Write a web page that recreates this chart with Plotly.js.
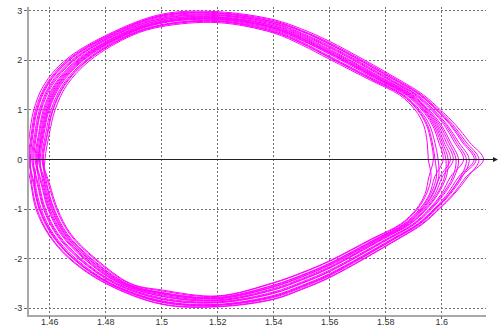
<!DOCTYPE html>
<html>
<head>
<meta charset="utf-8">
<script src="https://cdn.plot.ly/plotly-3.0.1.min.js"></script>
<style>
  html, body { margin: 0; padding: 0; background: #fff; }
  #chart { width: 499px; height: 328px; }
</style>
</head>
<body>
<div id="chart"></div>
<script>
// Phase trajectory (x = position, y = velocity): 18 successive loops.
const loopsX = [
  [1.4583,1.4598,1.4619,1.4661,1.4744,1.4893,1.50,1.52,1.54,1.55,1.56,1.5745,1.5850,1.5905,1.5935,1.5948,1.5952,1.5962,1.5945,1.5913,1.5858,1.5754,1.56,1.55,1.54,1.52,1.50,1.4884,1.4759,1.4671,1.4624,1.4596],
  [1.4572,1.4585,1.4605,1.4646,1.4728,1.4876,1.50,1.52,1.54,1.55,1.56,1.5764,1.5865,1.5921,1.5956,1.5975,1.5987,1.5989,1.5966,1.5929,1.5873,1.5773,1.56,1.55,1.54,1.52,1.50,1.4867,1.4740,1.4655,1.4609,1.4583],
  [1.4560,1.4573,1.4592,1.4631,1.4712,1.4860,1.50,1.52,1.54,1.55,1.56,1.5783,1.5881,1.5937,1.5976,1.6002,1.6023,1.6016,1.5986,1.5946,1.5888,1.5792,1.56,1.55,1.54,1.52,1.50,1.4849,1.4722,1.4639,1.4594,1.4570],
  [1.4548,1.4560,1.4577,1.4616,1.4695,1.4842,1.50,1.52,1.54,1.55,1.56,1.5803,1.5897,1.5955,1.5998,1.6031,1.6060,1.6045,1.6008,1.5963,1.5904,1.5812,1.56,1.55,1.54,1.52,1.50,1.4831,1.4703,1.4622,1.4578,1.4556],
  [1.4536,1.4546,1.4563,1.4600,1.4678,1.4824,1.50,1.52,1.54,1.55,1.56,1.5823,1.5913,1.5972,1.6019,1.6060,1.6098,1.6073,1.6030,1.5980,1.5921,1.5832,1.56,1.55,1.54,1.52,1.50,1.4812,1.4683,1.4605,1.4562,1.4542],
  [1.4525,1.4534,1.4549,1.4586,1.4662,1.4807,1.50,1.52,1.54,1.55,1.56,1.5842,1.5928,1.5988,1.6040,1.6087,1.6133,1.6093,1.6044,1.5991,1.5932,1.5846,1.56,1.55,1.54,1.52,1.50,1.4800,1.4670,1.4594,1.4551,1.4533],
  [1.4520,1.4528,1.4543,1.4579,1.4655,1.4800,1.50,1.52,1.54,1.55,1.56,1.5850,1.5935,1.5995,1.6049,1.6099,1.6149,1.6087,1.6040,1.5988,1.5928,1.5842,1.56,1.55,1.54,1.52,1.50,1.4804,1.4674,1.4597,1.4555,1.4536],
  [1.4531,1.4540,1.4556,1.4593,1.4670,1.4816,1.50,1.52,1.54,1.55,1.56,1.5832,1.5921,1.5980,1.6030,1.6073,1.6116,1.6060,1.6019,1.5972,1.5913,1.5823,1.56,1.55,1.54,1.52,1.50,1.4821,1.4693,1.4613,1.4570,1.4549],
  [1.4543,1.4553,1.4570,1.4609,1.4687,1.4833,1.50,1.52,1.54,1.55,1.56,1.5812,1.5904,1.5963,1.6008,1.6045,1.6078,1.6031,1.5998,1.5955,1.5897,1.5803,1.56,1.55,1.54,1.52,1.50,1.4840,1.4712,1.4630,1.4585,1.4563],
  [1.4555,1.4567,1.4585,1.4624,1.4704,1.4851,1.50,1.52,1.54,1.55,1.56,1.5792,1.5888,1.5946,1.5986,1.6016,1.6041,1.6002,1.5976,1.5937,1.5881,1.5783,1.56,1.55,1.54,1.52,1.50,1.4858,1.4731,1.4647,1.4601,1.4577],
  [1.4566,1.4579,1.4598,1.4639,1.4720,1.4868,1.50,1.52,1.54,1.55,1.56,1.5773,1.5873,1.5929,1.5966,1.5989,1.6005,1.5975,1.5956,1.5921,1.5865,1.5764,1.56,1.55,1.54,1.52,1.50,1.4876,1.4750,1.4663,1.4616,1.4590],
  [1.4577,1.4592,1.4612,1.4654,1.4736,1.4885,1.50,1.52,1.54,1.55,1.56,1.5754,1.5858,1.5913,1.5945,1.5962,1.5970,1.5954,1.5940,1.5909,1.5853,1.5749,1.56,1.55,1.54,1.52,1.50,1.4889,1.4764,1.4675,1.4628,1.4600],
  [1.4575,1.4590,1.4610,1.4651,1.4733,1.4882,1.50,1.52,1.54,1.55,1.56,1.5758,1.5860,1.5916,1.5949,1.5966,1.5976,1.5981,1.5960,1.5925,1.5869,1.5768,1.56,1.55,1.54,1.52,1.50,1.4872,1.4746,1.4659,1.4613,1.4587],
  [1.4563,1.4576,1.4595,1.4635,1.4716,1.4863,1.50,1.52,1.54,1.55,1.56,1.5779,1.5877,1.5934,1.5971,1.5996,1.6015,1.6010,1.5982,1.5942,1.5885,1.5788,1.56,1.55,1.54,1.52,1.50,1.4853,1.4726,1.4643,1.4597,1.4573],
  [1.4552,1.4563,1.4581,1.4620,1.4700,1.4847,1.50,1.52,1.54,1.55,1.56,1.5798,1.5893,1.5950,1.5992,1.6024,1.6051,1.6039,1.6003,1.5959,1.5901,1.5808,1.56,1.55,1.54,1.52,1.50,1.4835,1.4707,1.4626,1.4581,1.4559],
  [1.4540,1.4550,1.4567,1.4604,1.4683,1.4829,1.50,1.52,1.54,1.55,1.56,1.5817,1.5909,1.5967,1.6014,1.6052,1.6088,1.6067,1.6025,1.5976,1.5917,1.5828,1.56,1.55,1.54,1.52,1.50,1.4816,1.4687,1.4609,1.4565,1.4545],
  [1.4528,1.4537,1.4553,1.4590,1.4667,1.4812,1.50,1.52,1.54,1.55,1.56,1.5836,1.5924,1.5983,1.6034,1.6079,1.6123,1.6069,1.6026,1.5977,1.5918,1.5829,1.56,1.55,1.54,1.52,1.50,1.4815,1.4686,1.4608,1.4565,1.4545],
  [1.4558,1.4570,1.4589,1.4628,1.4708,1.4856,1.50,1.52,1.54,1.55,1.56,1.5787,1.5884,1.5941,1.5981,1.6008,1.6031,1.5993,1.5969,1.5932,1.5876,1.5777,1.56,1.55,1.54,1.52,1.50,1.4864,1.4737,1.4652,1.4606,1.4581]
];
const loopsY = [
  [0,0.5,1,1.5,2,2.5,2.68,2.76,2.55,2.31,2.02,1.6,1.3,1,0.7,0.35,0,-0.35,-0.7,-1,-1.3,-1.6,-2.05,-2.29,-2.49,-2.76,-2.65,-2.5,-2,-1.5,-1,-0.5],
  [0,0.5,1,1.5,2,2.5,2.72,2.80,2.60,2.37,2.08,1.6,1.3,1,0.7,0.35,0,-0.35,-0.7,-1,-1.3,-1.6,-2.12,-2.36,-2.56,-2.80,-2.70,-2.5,-2,-1.5,-1,-0.5],
  [0,0.5,1,1.5,2,2.5,2.77,2.84,2.65,2.43,2.15,1.6,1.3,1,0.7,0.35,0,-0.35,-0.7,-1,-1.3,-1.6,-2.19,-2.43,-2.63,-2.85,-2.76,-2.5,-2,-1.5,-1,-0.5],
  [0,0.5,1,1.5,2,2.5,2.82,2.88,2.70,2.49,2.22,1.6,1.3,1,0.7,0.35,0,-0.35,-0.7,-1,-1.3,-1.6,-2.26,-2.50,-2.70,-2.89,-2.82,-2.5,-2,-1.5,-1,-0.5],
  [0,0.5,1,1.5,2,2.5,2.87,2.92,2.75,2.55,2.29,1.6,1.3,1,0.7,0.35,0,-0.35,-0.7,-1,-1.3,-1.6,-2.34,-2.58,-2.78,-2.94,-2.88,-2.5,-2,-1.5,-1,-0.5],
  [0,0.5,1,1.5,2,2.5,2.91,2.96,2.80,2.60,2.35,1.6,1.3,1,0.7,0.35,0,-0.35,-0.7,-1,-1.3,-1.6,-2.38,-2.62,-2.82,-2.97,-2.92,-2.5,-2,-1.5,-1,-0.5],
  [0,0.5,1,1.5,2,2.5,2.93,2.98,2.82,2.63,2.38,1.6,1.3,1,0.7,0.35,0,-0.35,-0.7,-1,-1.3,-1.6,-2.37,-2.61,-2.81,-2.96,-2.91,-2.5,-2,-1.5,-1,-0.5],
  [0,0.5,1,1.5,2,2.5,2.89,2.94,2.77,2.58,2.32,1.6,1.3,1,0.7,0.35,0,-0.35,-0.7,-1,-1.3,-1.6,-2.30,-2.54,-2.74,-2.92,-2.85,-2.5,-2,-1.5,-1,-0.5],
  [0,0.5,1,1.5,2,2.5,2.84,2.90,2.72,2.51,2.25,1.6,1.3,1,0.7,0.35,0,-0.35,-0.7,-1,-1.3,-1.6,-2.23,-2.47,-2.67,-2.87,-2.79,-2.5,-2,-1.5,-1,-0.5],
  [0,0.5,1,1.5,2,2.5,2.79,2.86,2.67,2.45,2.18,1.6,1.3,1,0.7,0.35,0,-0.35,-0.7,-1,-1.3,-1.6,-2.16,-2.40,-2.60,-2.83,-2.73,-2.5,-2,-1.5,-1,-0.5],
  [0,0.5,1,1.5,2,2.5,2.75,2.82,2.62,2.40,2.12,1.6,1.3,1,0.7,0.35,0,-0.35,-0.7,-1,-1.3,-1.6,-2.09,-2.33,-2.53,-2.78,-2.68,-2.5,-2,-1.5,-1,-0.5],
  [0,0.5,1,1.5,2,2.5,2.70,2.78,2.57,2.34,2.05,1.6,1.3,1,0.7,0.35,0,-0.35,-0.7,-1,-1.3,-1.6,-2.04,-2.28,-2.48,-2.75,-2.63,-2.5,-2,-1.5,-1,-0.5],
  [0,0.5,1,1.5,2,2.5,2.71,2.79,2.58,2.35,2.06,1.6,1.3,1,0.7,0.35,0,-0.35,-0.7,-1,-1.3,-1.6,-2.10,-2.34,-2.54,-2.79,-2.69,-2.5,-2,-1.5,-1,-0.5],
  [0,0.5,1,1.5,2,2.5,2.76,2.83,2.64,2.41,2.14,1.6,1.3,1,0.7,0.35,0,-0.35,-0.7,-1,-1.3,-1.6,-2.18,-2.42,-2.62,-2.84,-2.75,-2.5,-2,-1.5,-1,-0.5],
  [0,0.5,1,1.5,2,2.5,2.81,2.87,2.69,2.47,2.20,1.6,1.3,1,0.7,0.35,0,-0.35,-0.7,-1,-1.3,-1.6,-2.25,-2.49,-2.69,-2.88,-2.81,-2.5,-2,-1.5,-1,-0.5],
  [0,0.5,1,1.5,2,2.5,2.85,2.91,2.74,2.53,2.27,1.6,1.3,1,0.7,0.35,0,-0.35,-0.7,-1,-1.3,-1.6,-2.32,-2.56,-2.76,-2.93,-2.86,-2.5,-2,-1.5,-1,-0.5],
  [0,0.5,1,1.5,2,2.5,2.90,2.95,2.78,2.59,2.33,1.6,1.3,1,0.7,0.35,0,-0.35,-0.7,-1,-1.3,-1.6,-2.32,-2.56,-2.76,-2.93,-2.87,-2.5,-2,-1.5,-1,-0.5],
  [0,0.5,1,1.5,2,2.5,2.78,2.85,2.66,2.44,2.16,1.6,1.3,1,0.7,0.35,0,-0.35,-0.7,-1,-1.3,-1.6,-2.13,-2.37,-2.57,-2.81,-2.71,-2.5,-2,-1.5,-1,-0.5]
];
const xTickVals = [1.46, 1.48, 1.5, 1.52, 1.54, 1.56, 1.58, 1.6];
const xTickText = ['1.46', '1.48', '1.5', '1.52', '1.54', '1.56', '1.58', '1.6'];
const yTickVals = [-3, -2, -1, 0, 1, 2, 3];
const yTickText = ['-3', '-2', '-1', '0', '1', '2', '3'];
const xRange = [1.4526, 1.6158];
const yRange = [-3.135, 3.075];

// One continuous trajectory through all loops, closed back to its start.
const trajX = [].concat(...loopsX);
const trajY = [].concat(...loopsY);
trajX.push(loopsX[0][0]);
trajY.push(loopsY[0][0]);

const trace = {
  x: trajX, y: trajY,
  type: 'scatter', mode: 'lines',
  line: { color: '#ff00ff', width: 1, shape: 'spline', smoothing: 1 },
  hoverinfo: 'skip'
};
// invisible helper so the tick-mark overlay axis is drawn
const tickHelper = {
  x: [xTickVals[0]], y: [yTickVals[3]], xaxis: 'x2', yaxis: 'y',
  type: 'scatter', mode: 'markers', marker: { opacity: 0 }, hoverinfo: 'skip'
};

const font = { family: 'Liberation Sans, Arial, sans-serif', size: 9, color: '#333' };
const gridStyle = { showgrid: true, gridcolor: '#707070', gridwidth: 1, griddash: '2px,2px' };

const layout = {
  width: 499, height: 328,
  margin: { l: 29, r: 13, t: 7, b: 13 },
  paper_bgcolor: '#ffffff', plot_bgcolor: '#ffffff',
  showlegend: false,
  xaxis: Object.assign({}, gridStyle, {
    range: xRange, tickmode: 'array', tickvals: xTickVals, ticktext: xTickText,
    showline: true, linecolor: '#a8a8a8', linewidth: 2, ticks: '',
    ticklabelstandoff: -3,
    zeroline: false, fixedrange: true, tickfont: font
  }),
  xaxis2: {
    overlaying: 'x', anchor: 'y', side: 'bottom', range: xRange,
    tickmode: 'array', tickvals: xTickVals, showticklabels: false,
    ticks: 'outside', ticklen: 3, tickwidth: 1, tickcolor: '#666',
    showgrid: false, showline: false, zeroline: false, fixedrange: true
  },
  yaxis: Object.assign({}, gridStyle, {
    range: yRange, tickmode: 'array', tickvals: yTickVals, ticktext: yTickText,
    showline: true, linecolor: '#a8a8a8', linewidth: 2,
    ticks: 'outside', ticklen: 3, tickwidth: 1, tickcolor: '#666',
    zeroline: false, fixedrange: true, tickfont: font
  }),
  annotations: [{
    xref: 'paper', yref: 'y', x: 1.0263, y: 0,
    axref: 'pixel', ayref: 'pixel', ax: -469, ay: 0,
    text: '', showarrow: true, arrowhead: 2, arrowsize: 1, arrowwidth: 1,
    arrowcolor: '#222', standoff: 0
  }]
};

Plotly.newPlot('chart', [trace, tickHelper], layout, { displayModeBar: false, staticPlot: true });
</script>
</body>
</html>
